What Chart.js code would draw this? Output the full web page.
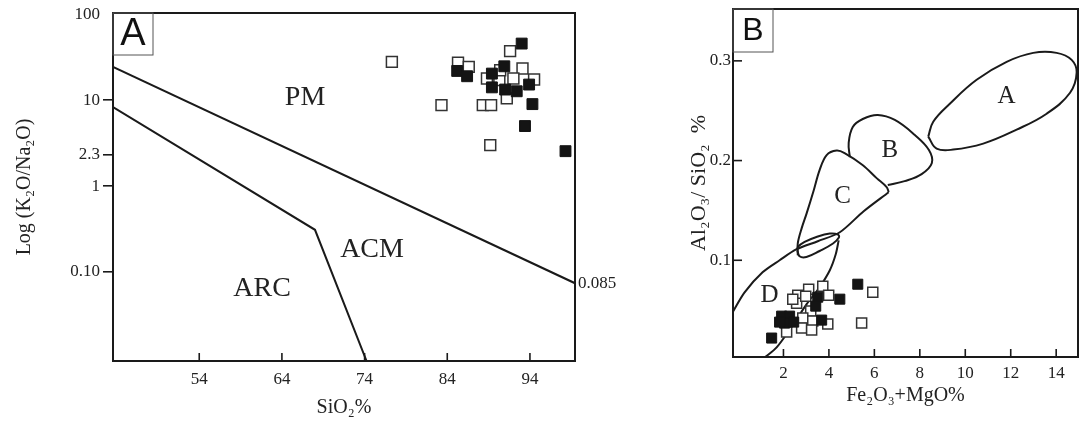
<!DOCTYPE html>
<html><head><meta charset="utf-8">
<script src="https://cdn.jsdelivr.net/npm/chart.js@4.4.1/dist/chart.umd.min.js"></script>
<style>
html,body{margin:0;padding:0;background:#fff;}
#wrap{position:relative;width:1079px;height:426px;background:#fff;}
#ca{position:absolute;left:0;top:0;}
#cb{position:absolute;left:660px;top:0;}
</style></head><body>
<div id="wrap"><canvas id="ca" width="650" height="426"></canvas><canvas id="cb" width="419" height="426"></canvas></div>
<script>
// ---------- Panel A data ----------
const A_X_TICKS = [54, 64, 74, 84, 94];
const A_Y_TICKS = [0.1, 1, 2.3, 10, 100];
const A_Y_TICK_LABELS = ['0.10', '1', '2.3', '10', '100'];
const A_OPEN_SIO2  = [77.3, 85.3, 86.6, 91.6, 93.1, 88.8, 92.0, 94.5, 91.2, 83.3, 88.3, 89.3, 89.2, 90.3, 90.4];
const A_OPEN_RATIO = [27.9, 27.4, 24.4, 37.2, 23.4, 17.9, 17.9, 17.4, 10.5, 8.75, 8.75, 8.75, 3.0, 17.1, 22.3];
const A_FILLED_SIO2  = [93.0, 85.2, 86.4, 90.9, 89.4, 89.4, 91.0, 92.4, 93.9, 94.3, 93.4, 98.3];
const A_FILLED_RATIO = [45.6, 21.9, 19.0, 24.8, 20.4, 14.1, 13.3, 12.7, 15.2, 9.0, 5.0, 2.55];
const A_PM_BOUND_SIO2  = [43.57, 99.45];
const A_PM_BOUND_RATIO = [24.4, 0.074];
const A_ARC_BOUND_SIO2  = [43.57, 68.0, 74.24];
const A_ARC_BOUND_RATIO = [8.3, 0.31, 0.0092];

// ---------- Panel B data ----------
const B_X_TICKS = [2, 4, 6, 8, 10, 12, 14];
const B_Y_TICKS = [0.1, 0.2, 0.3];
const B_OPEN_FEMG  = [5.93, 5.44, 3.95, 3.73, 3.99, 3.11, 2.63, 2.58, 3.20, 2.85, 3.29, 2.80, 3.24, 2.14, 2.98, 2.41];
const B_OPEN_ALSI  = [0.068, 0.037, 0.036, 0.074, 0.065, 0.071, 0.065, 0.057, 0.049, 0.042, 0.039, 0.032, 0.030, 0.028, 0.064, 0.061];
const B_FILLED_FEMG = [5.27, 4.48, 3.51, 3.42, 3.68, 1.92, 2.27, 2.05, 2.45, 1.83, 1.48];
const B_FILLED_ALSI = [0.076, 0.061, 0.063, 0.054, 0.040, 0.044, 0.044, 0.037, 0.038, 0.038, 0.022];
const FIELD_A_X = [8.37, 8.74, 9.47, 10.79, 12.26, 13.58, 14.61, 14.90, 14.68, 14.02, 12.99, 11.82, 10.50, 9.32, 8.59, 8.37];
const FIELD_A_Y = [0.224, 0.212, 0.211, 0.217, 0.231, 0.247, 0.268, 0.288, 0.301, 0.308, 0.308, 0.299, 0.281, 0.257, 0.239, 0.224];
const FIELD_B_X = [4.92, 4.87, 5.05, 5.49, 6.15, 6.90, 7.78, 8.40, 8.53, 8.08, 7.33, 6.59];
const FIELD_B_Y = [0.2035, 0.2176, 0.2337, 0.2417, 0.2457, 0.2407, 0.2256, 0.2106, 0.1975, 0.1864, 0.1794, 0.1754];
const FIELD_C_X = [2.63, 2.63, 2.80, 3.02, 3.33, 3.59, 3.90, 4.34, 4.69, 5.48, 6.10, 6.54, 6.63];
const FIELD_C_Y = [0.105, 0.117, 0.132, 0.147, 0.170, 0.1905, 0.2055, 0.210, 0.2075, 0.1955, 0.1824, 0.1734, 0.1683];
const FIELD_CD_X = [6.63, 5.53, 4.48, 3.51, 2.58, 1.83, 1.08, 0.29, -0.24];
const FIELD_CD_Y = [0.1683, 0.1492, 0.1281, 0.1191, 0.1111, 0.100, 0.0879, 0.0678, 0.0477];
const FIELD_D_X = [4.43, 4.30, 4.04, 3.59, 3.02, 2.41, 1.70, 1.17];
const FIELD_D_Y = [0.120, 0.106, 0.090, 0.073, 0.056, 0.035, 0.0126, 0.0025];
const FIELD_E_X = [2.61, 2.71, 3.01, 3.59, 4.18, 4.44, 4.40, 4.04, 3.45, 2.93, 2.64, 2.61];
const FIELD_E_Y = [0.110, 0.104, 0.1033, 0.1093, 0.1168, 0.1228, 0.1258, 0.1268, 0.1234, 0.1184, 0.1134, 0.110];

const pts = (xs, ys) => xs.map((x, i) => ({x: x, y: ys[i]}));
const SERIF = '"Liberation Serif", "Times New Roman", serif';
const SANS = '"Liberation Sans", Arial, sans-serif';
const INK = '#1a1a1a';

const framePlugin = {
  id: 'frame',
  afterDatasetsDraw(chart, args, opts) {
    const ctx = chart.ctx, a = chart.chartArea;
    ctx.save();
    ctx.strokeStyle = INK;
    ctx.lineWidth = 1.6;
    (opts.insideTicks || []).forEach(t => {
      const s = chart.scales[t.axis];
      s.ticks.forEach(tk => {
        const p = s.getPixelForValue(tk.value);
        ctx.beginPath();
        if (s.isHorizontal()) { ctx.moveTo(p, a.bottom); ctx.lineTo(p, a.bottom - t.len); }
        else { ctx.moveTo(a.left, p); ctx.lineTo(a.left + t.len, p); }
        ctx.stroke();
      });
    });
    ctx.lineWidth = 2;
    ctx.strokeRect(a.left, a.top, a.right - a.left, a.bottom - a.top);
    if (opts.letter) {
      const L = opts.letter;
      ctx.lineWidth = 1;
      ctx.strokeStyle = '#555';
      ctx.strokeRect(a.left, a.top, L.w, L.h);
      ctx.fillStyle = '#111';
      ctx.font = L.size + 'px ' + SANS;
      ctx.textAlign = 'center';
      ctx.textBaseline = 'middle';
      ctx.fillText(L.text, a.left + L.w / 2, a.top + L.h / 2 + 1);
    }
    (opts.labels || []).forEach(l => {
      const px = chart.scales.x.getPixelForValue(l.x) + (l.dx || 0);
      const py = chart.scales.y.getPixelForValue(l.y) + (l.dy || 0);
      ctx.fillStyle = '#222';
      ctx.font = l.size + 'px ' + SERIF;
      ctx.textAlign = l.align || 'center';
      ctx.textBaseline = 'middle';
      ctx.fillText(l.text, px, py);
    });
    ctx.restore();
  }
};

function noPad(s) { s.paddingLeft = 0; s.paddingRight = 0; s.paddingTop = 0; s.paddingBottom = 0; }

function markerSets(openPts, filledPts, r) {
  return [
    {label: 'filled', data: filledPts, pointStyle: 'rect', pointRadius: r, backgroundColor: '#141414', borderColor: '#141414', borderWidth: 1, showLine: false},
    {label: 'open', data: openPts, pointStyle: 'rect', pointRadius: r, backgroundColor: '#ffffff', borderColor: '#333333', borderWidth: 1.5, showLine: false}
  ];
}
function lineSet(data, tension) {
  return {label: 'boundary', data: data, showLine: true, pointRadius: 0, borderColor: INK, borderWidth: 2, tension: tension, fill: false};
}

// ---------- Chart A ----------
new Chart(document.getElementById('ca'), {
  type: 'scatter',
  data: {datasets: [
    ...markerSets(pts(A_OPEN_SIO2, A_OPEN_RATIO), pts(A_FILLED_SIO2, A_FILLED_RATIO), 7.7),
    lineSet(pts(A_PM_BOUND_SIO2, A_PM_BOUND_RATIO), 0),
    lineSet(pts(A_ARC_BOUND_SIO2, A_ARC_BOUND_RATIO), 0)
  ]},
  options: {
    responsive: false, animation: false, devicePixelRatio: 1,
    layout: {autoPadding: false, padding: {left: 0, right: 75, top: 13, bottom: 0}},
    plugins: {
      legend: {display: false}, tooltip: {enabled: false},
      frame: {
        insideTicks: [{axis: 'x', len: 8}],
        letter: {text: 'A', w: 40, h: 42, size: 38},
        labels: [
          {text: 'PM', x: 66.8, y: 10.8, size: 28},
          {text: 'ACM', x: 74.9, y: 0.18, size: 28},
          {text: 'ARC', x: 61.6, y: 0.0645, size: 28},
          {text: '0.085', x: 99.45, y: 0.074, dx: 3, align: 'left', size: 17}
        ]
      }
    },
    scales: {
      x: {
        type: 'linear', min: 43.57, max: 99.45,
        afterBuildTicks: s => { s.ticks = A_X_TICKS.map(v => ({value: v})); },
        afterFit: s => { s.height = 65; noPad(s); },
        grid: {display: false, drawTicks: false},
        border: {display: false},
        ticks: {font: {family: SERIF, size: 17}, color: '#222', padding: 8, maxRotation: 0, autoSkip: false},
        title: {display: true, text: 'SiO₂%', font: {family: SERIF, size: 20}, color: '#222', padding: {top: 0, bottom: 6}}
      },
      y: {
        type: 'logarithmic', min: 0.0092, max: 103.5,
        afterBuildTicks: s => { s.ticks = A_Y_TICKS.map(v => ({value: v})); },
        afterFit: s => { s.width = 113; noPad(s); },
        grid: {display: true, drawOnChartArea: false, drawTicks: true, tickLength: 10, lineWidth: 1.6,
               color: c => (c.tick && c.tick.value === 100) ? 'rgba(0,0,0,0)' : INK},
        border: {display: false},
        ticks: {font: {family: SERIF, size: 17}, color: '#222', padding: 3, autoSkip: false,
                callback: v => { const i = A_Y_TICKS.indexOf(v); return i >= 0 ? A_Y_TICK_LABELS[i] : ''; }},
        title: {display: true, text: 'Log (K₂O/Na₂O)', font: {family: SERIF, size: 20}, color: '#222', padding: {top: 13, bottom: 0}}
      }
    }
  },
  plugins: [framePlugin]
});

// ---------- Chart B ----------
new Chart(document.getElementById('cb'), {
  type: 'scatter',
  data: {datasets: [
    ...markerSets(pts(B_OPEN_FEMG, B_OPEN_ALSI), pts(B_FILLED_FEMG, B_FILLED_ALSI), 7.1),
    lineSet(pts(FIELD_A_X, FIELD_A_Y), 0.4),
    lineSet(pts(FIELD_B_X, FIELD_B_Y), 0.4),
    lineSet(pts(FIELD_C_X, FIELD_C_Y), 0.35),
    lineSet(pts(FIELD_CD_X, FIELD_CD_Y), 0.3),
    lineSet(pts(FIELD_D_X, FIELD_D_Y), 0.3),
    lineSet(pts(FIELD_E_X, FIELD_E_Y), 0.4)
  ]},
  options: {
    responsive: false, animation: false, devicePixelRatio: 1,
    layout: {autoPadding: false, padding: {left: 0, right: 1, top: 9, bottom: 0}},
    plugins: {
      legend: {display: false}, tooltip: {enabled: false},
      frame: {
        insideTicks: [{axis: 'x', len: 8}, {axis: 'y', len: 9}],
        letter: {text: 'B', w: 40, h: 43, size: 32},
        labels: [
          {text: 'A', x: 11.82, y: 0.264, size: 25},
          {text: 'B', x: 6.68, y: 0.2106, size: 25},
          {text: 'C', x: 4.60, y: 0.1636, size: 25},
          {text: 'D', x: 1.39, y: 0.0648, size: 25}
        ]
      }
    },
    scales: {
      x: {
        type: 'linear', min: -0.22, max: 14.96,
        afterBuildTicks: s => { s.ticks = B_X_TICKS.map(v => ({value: v})); },
        afterFit: s => { s.height = 69; noPad(s); },
        grid: {display: false, drawTicks: false},
        border: {display: false},
        ticks: {font: {family: SERIF, size: 17}, color: '#222', padding: 6, maxRotation: 0, autoSkip: false},
        title: {display: true, text: 'Fe₂O₃+MgO%', font: {family: SERIF, size: 20}, color: '#222', padding: {top: 0, bottom: 18}}
      },
      y: {
        type: 'linear', min: 0.003, max: 0.352,
        afterBuildTicks: s => { s.ticks = B_Y_TICKS.map(v => ({value: v})); },
        afterFit: s => { s.width = 73; noPad(s); },
        grid: {display: false, drawTicks: false},
        border: {display: false},
        ticks: {font: {family: SERIF, size: 17}, color: '#222', padding: 2, autoSkip: false,
                callback: v => String(v)},
        title: {display: true, text: 'Al₂O₃/ SiO₂  %', font: {family: SERIF, size: 22}, color: '#222', padding: {top: 26, bottom: 0}}
      }
    }
  },
  plugins: [framePlugin]
});
</script>
</body></html>
